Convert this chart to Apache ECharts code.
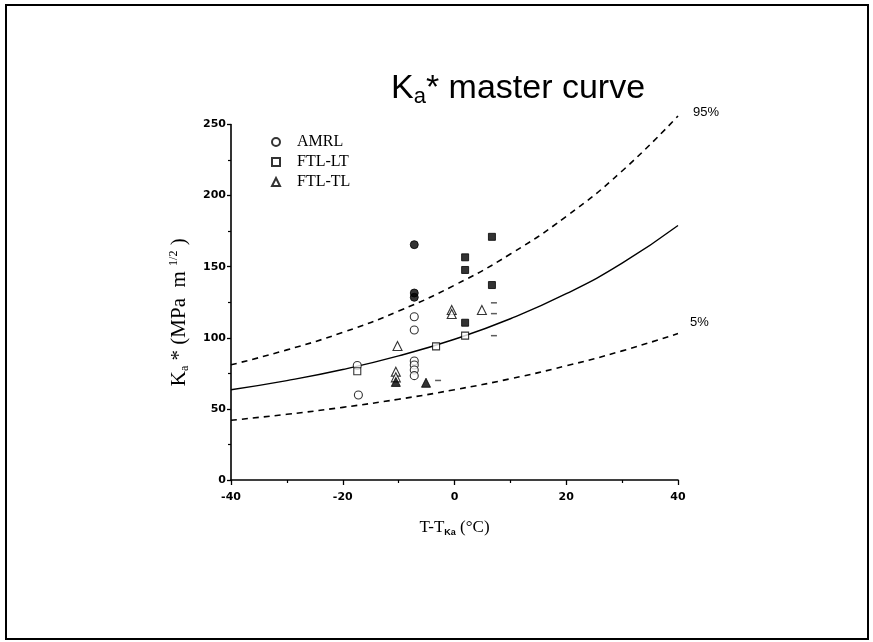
<!DOCTYPE html>
<html><head><meta charset="utf-8">
<script src="https://cdn.jsdelivr.net/npm/echarts@6/dist/echarts.min.js"></script>
<style>html,body{margin:0;padding:0;background:#fff}#c{width:873px;height:642px}</style>
</head><body><div id="c"></div>
<script>
// x positions for curves (T - T_Ka, °C)
const curveX = [-40, -30, -20, -10, 0, 10, 20, 30, 40];
const median = [63.5, 69.9, 77.7, 87.3, 99, 113.4, 131, 152.5, 179];
const upper95 = [81, 91.5, 103.8, 118.8, 137, 158.9, 185.4, 217.3, 256];
const lower5 = [42, 46.2, 51.1, 56.8, 63.5, 71.2, 80.3, 90.8, 103];

const amrlOpen = [[-7.2,114.8],[-7.2,105.5],[-7.2,83.7],[-7.2,80.9],[-7.2,77.4],[-7.2,73.4],[-17.4,80.5],[-17.2,59.8]];
const amrlFilled = [[-7.2,165.5],[-7.2,131.5],[-7.2,128.5]];
const ftlLtOpen = [[-17.4,76.5],[-3.3,94],[1.9,101.5]];
const ftlLtFilled = [[6.7,171],[1.9,156.6],[1.9,147.7],[6.7,137.1],[1.9,110.6]];
const ftlTlOpen = [[-10.2,94.2],[-10.5,76.2],[-10.5,72.2],[-0.5,119.5],[-0.5,116.7],[4.9,119.5]];
const ftlTlFilled = [[-10.5,69],[-5.1,68.4]];
const partialMarks = [[6.7,124.6],[6.7,117],[6.7,101.5],[-3.3,70]];

const xTicks = {min: -40, max: 40, interval: 20};
const yTicks = {min: 0, max: 250, interval: 50};

const pair = (xs, ys) => xs.map((x, i) => [x, ys[i]]);
const serif = '"Liberation Serif", "DejaVu Serif", serif';
const sans = '"Liberation Sans", Arial, sans-serif';
const tickFont = '"DejaVu Sans", sans-serif';

const chart = echarts.init(document.getElementById('c'));
const openStyle = {color: '#fff', borderColor: '#000', borderWidth: 1.1};
const fillStyle = {color: '#000', borderColor: '#000', borderWidth: 1};

chart.setOption({
  animation: false,
  backgroundColor: '#fff',
  title: {
    text: 'K{sub|a}* master curve',
    left: 386, top: 65,
    textStyle: {
      fontFamily: sans, fontSize: 34, fontWeight: 'normal', color: '#000',
      rich: {sub: {fontFamily: sans, fontSize: 22, verticalAlign: 'bottom', padding: [16,0,0,0], color: '#000'}}
    }
  },
  legend: {
    orient: 'vertical', left: 266, top: 129, itemGap: 4,
    itemWidth: 8, itemHeight: 8,
    data: ['AMRL', 'FTL-LT', 'FTL-TL'],
    textStyle: {fontFamily: serif, fontSize: 16, color: '#000', padding: [0,0,0,12]}
  },
  grid: {left: 231, right: 195, top: 124.5, bottom: 162},
  xAxis: {
    type: 'value', min: xTicks.min, max: xTicks.max, interval: xTicks.interval,
    name: 'T-T{sub|Ka} (°C)', nameLocation: 'middle', nameGap: 38, nameMoveOverlap: false,
    nameTextStyle: {fontFamily: serif, fontSize: 17, color: '#000',
      rich: {sub: {fontFamily: sans, fontSize: 9, fontWeight: 'bold', verticalAlign: 'bottom', padding: [10,0,0,0]}}},
    axisLine: {onZero: false, lineStyle: {color: '#000', width: 1.6}},
    axisTick: {length: 5, lineStyle: {color: '#000', width: 1.3}},
    minorTick: {show: true, splitNumber: 2, length: 3, lineStyle: {color: '#000', width: 1.2}},
    axisLabel: {fontFamily: tickFont, fontSize: 11, fontWeight: 'bold', color: '#000', margin: 12},
    splitLine: {show: false}
  },
  yAxis: {
    type: 'value', min: yTicks.min, max: yTicks.max, interval: yTicks.interval,
    name: 'K{sub|a} * (MPa  m {sup|1/2} )', nameLocation: 'middle', nameRotate: 90, nameGap: 40, nameMoveOverlap: false,
    nameTextStyle: {fontFamily: serif, fontSize: 21, color: '#000', padding: [0, 20, 0, 0],
      rich: {sub: {fontFamily: serif, fontSize: 12, verticalAlign: 'bottom', padding: [11,0,0,0]},
             sup: {fontFamily: serif, fontSize: 12, verticalAlign: 'top', padding: [0,0,11,0]}}},
    axisLine: {onZero: false, lineStyle: {color: '#000', width: 1.6}},
    axisTick: {length: 4, lineStyle: {color: '#000', width: 1.3}},
    minorTick: {show: true, splitNumber: 2, length: 3, lineStyle: {color: '#000', width: 1.2}},
    axisLabel: {fontFamily: tickFont, fontSize: 11, fontWeight: 'bold', color: '#000', margin: 5},
    splitLine: {show: false}
  },
  graphic: [
    {type: 'rect', shape: {x: 6, y: 5, width: 862, height: 634}, style: {fill: 'none', stroke: '#000', lineWidth: 2}, silent: true},
    {type: 'text', left: 693, top: 106, style: {text: '95%', font: '13px ' + sans, fill: '#000'}},
    {type: 'text', left: 690, top: 316, style: {text: '5%', font: '13px ' + sans, fill: '#000'}}
  ],
  series: [
    {type: 'line', name: 'median', data: pair(curveX, median), smooth: true, showSymbol: false, symbol: 'none',
     lineStyle: {color: '#000', width: 1.4}},
    {type: 'line', name: '95%', data: pair(curveX, upper95), smooth: true, showSymbol: false, symbol: 'none', clip: false,
     lineStyle: {color: '#000', width: 1.6, type: [6, 5]}},
    {type: 'line', name: '5%', data: pair(curveX, lower5), smooth: true, showSymbol: false, symbol: 'none',
     lineStyle: {color: '#000', width: 1.6, type: [6, 5]}},
    {type: 'scatter', name: 'AMRL', data: amrlOpen, symbol: 'circle', symbolSize: 8, itemStyle: openStyle, z: 5},
    {type: 'scatter', name: 'FTL-LT', data: ftlLtOpen, symbol: 'rect', symbolSize: 7, itemStyle: openStyle, z: 5},
    {type: 'scatter', name: 'FTL-TL', data: ftlTlOpen, symbol: 'triangle', symbolSize: 9, itemStyle: openStyle, z: 5},
    {type: 'scatter', name: 'AMRL filled', data: amrlFilled, symbol: 'circle', symbolSize: 8, itemStyle: fillStyle, z: 5},
    {type: 'scatter', name: 'FTL-LT filled', data: ftlLtFilled, symbol: 'rect', symbolSize: 7, itemStyle: fillStyle, z: 5},
    {type: 'scatter', name: 'FTL-TL filled', data: ftlTlFilled, symbol: 'triangle', symbolSize: 9, itemStyle: fillStyle, z: 5},
    {type: 'scatter', name: 'partial', data: partialMarks, symbol: 'rect', symbolSize: [6, 1.5], symbolOffset: [2, 0],
     itemStyle: {color: '#333'}, z: 5}
  ]
});
</script></body></html>
